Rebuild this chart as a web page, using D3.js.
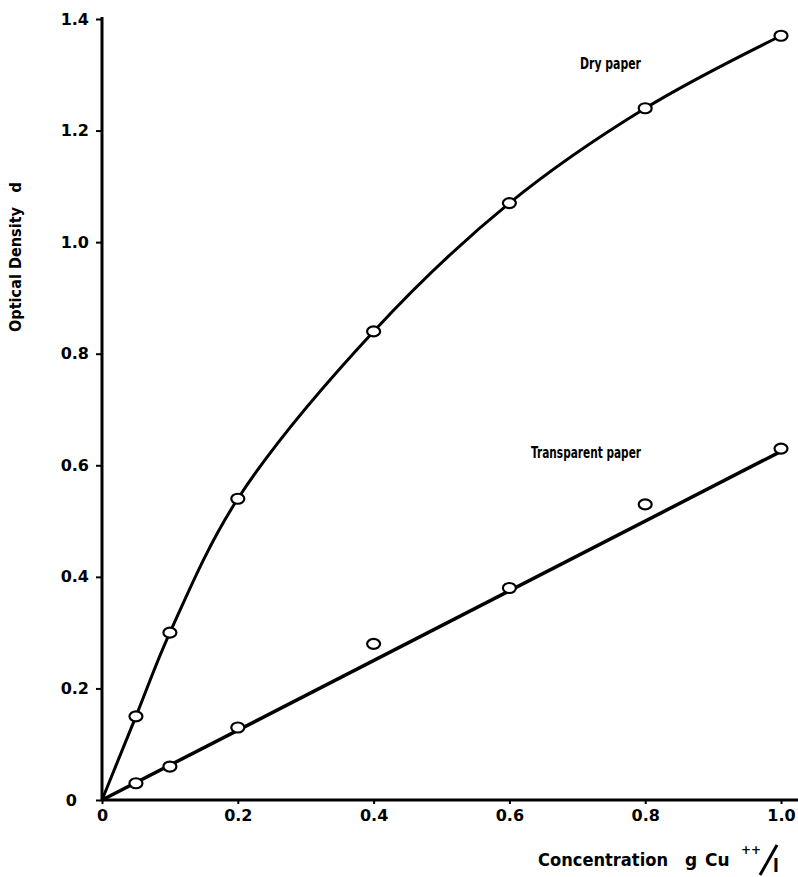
<!DOCTYPE html>
<html><head><meta charset="utf-8">
<script src="https://cdn.jsdelivr.net/npm/d3@7"></script>
<style>
html,body{margin:0;padding:0;background:#fff;}
text{font-family:"DejaVu Sans","Liberation Sans",sans-serif;font-weight:bold;fill:#000;}
</style></head><body>
<svg id="c" width="798" height="877"></svg>
<script>
// Data
const concentration = [0.05, 0.1, 0.2, 0.4, 0.6, 0.8, 1.0];
const dryPaper = [0.15, 0.30, 0.54, 0.84, 1.07, 1.24, 1.37];
const transparentPaper = [0.03, 0.06, 0.13, 0.28, 0.38, 0.53, 0.63];
const transparentFitX = [0, 1.0];
const transparentFitY = [0, 0.625];
const xTicks = [0, 0.2, 0.4, 0.6, 0.8, 1.0];
const xTickLabels = ["0", "0.2", "0.4", "0.6", "0.8", "1.0"];
const yTicks = [0, 0.2, 0.4, 0.6, 0.8, 1.0, 1.2, 1.4];
const yTickLabels = ["0", "0.2", "0.4", "0.6", "0.8", "1.0", "1.2", "1.4"];

const svg = d3.select("#c");
const x = d3.scaleLinear().domain([0, 1.0]).range([102, 781]);
const y = d3.scaleLinear().domain([0, 1.4]).range([800, 19]);

// axes lines
svg.append("line").attr("x1", x(0)).attr("x2", 798).attr("y1", y(0)).attr("y2", y(0))
  .attr("stroke", "#000").attr("stroke-width", 3);
svg.append("line").attr("x1", x(0)).attr("x2", x(0)).attr("y1", y(0)).attr("y2", 17)
  .attr("stroke", "#000").attr("stroke-width", 3);

const xAxis = d3.axisBottom(x).tickValues(xTicks).tickSize(4).tickSizeOuter(0)
  .tickFormat((d, i) => xTickLabels[i]).tickPadding(6);
const gx = svg.append("g").attr("transform", `translate(0,${y(0)})`).call(xAxis);
gx.select(".domain").remove();
gx.selectAll(".tick line").attr("stroke-width", 2);
gx.selectAll(".tick text").style("font-size", "16px");

const yAxis = d3.axisLeft(y).tickValues(yTicks).tickSize(6).tickSizeOuter(0)
  .tickFormat((d, i) => yTickLabels[i]).tickPadding(7);
const gy = svg.append("g").attr("transform", `translate(${x(0)},0)`).call(yAxis);
gy.select(".domain").remove();
gy.selectAll(".tick line").attr("stroke-width", 2);
gy.selectAll(".tick text").style("font-size", "16px");
gy.selectAll(".tick").filter(d => d === 0).select("text").attr("dx", -12);

// curves
const dryLine = d3.line().x(d => x(d[0])).y(d => y(d[1])).curve(d3.curveCatmullRom.alpha(0.5));
const dryPts = [[0, 0]].concat(concentration.map((c, i) => [c, dryPaper[i]]));
svg.append("path").attr("d", dryLine(dryPts)).attr("fill", "none")
  .attr("stroke", "#000").attr("stroke-width", 3);

const trLine = d3.line().x(d => x(d[0])).y(d => y(d[1]));
svg.append("path").attr("d", trLine(transparentFitX.map((v, i) => [v, transparentFitY[i]])))
  .attr("fill", "none").attr("stroke", "#000").attr("stroke-width", 3.5);

// markers
function markers(vals) {
  svg.append("g").selectAll("ellipse").data(concentration).join("ellipse")
    .attr("cx", d => x(d)).attr("cy", (d, i) => y(vals[i]))
    .attr("rx", 6.5).attr("ry", 5)
    .attr("fill", "#fff").attr("stroke", "#000").attr("stroke-width", 2.2);
}
markers(dryPaper);
markers(transparentPaper);

// labels
svg.append("text").attr("x", 580).attr("y", 69).style("font-size", "15px")
  .attr("textLength", 61).attr("lengthAdjust", "spacingAndGlyphs").text("Dry paper");
svg.append("text").attr("x", 531).attr("y", 458).style("font-size", "15px")
  .attr("textLength", 110).attr("lengthAdjust", "spacingAndGlyphs").text("Transparent paper");

svg.append("text").attr("transform", "translate(21,332) rotate(-90)")
  .attr("text-anchor", "start").style("font-size", "15px")
  .attr("textLength", 125).attr("lengthAdjust", "spacingAndGlyphs").text("Optical Density");
svg.append("text").attr("transform", "translate(21,182) rotate(-90)")
  .attr("text-anchor", "end").style("font-size", "15px").text("d");

svg.append("text").attr("x", 538).attr("y", 866).style("font-size", "17px")
  .attr("textLength", 130).attr("lengthAdjust", "spacingAndGlyphs").text("Concentration");
svg.append("text").attr("x", 685).attr("y", 866).style("font-size", "17px").text("g");
svg.append("text").attr("x", 705).attr("y", 866).style("font-size", "17px").text("Cu");
svg.append("text").attr("x", 741).attr("y", 854).style("font-size", "12px").text("++");
svg.append("line").attr("x1", 760).attr("y1", 875).attr("x2", 777).attr("y2", 845)
  .attr("stroke", "#000").attr("stroke-width", 3);
svg.append("text").attr("x", 773).attr("y", 872).style("font-size", "17px").text("l");
</script>
</body></html>
